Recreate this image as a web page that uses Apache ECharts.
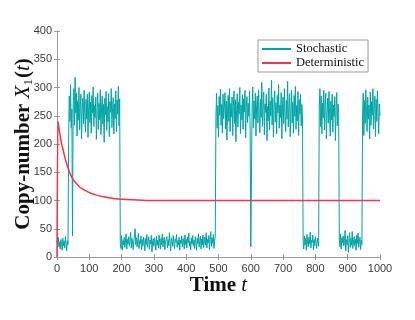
<!DOCTYPE html>
<html>
<head>
<meta charset="utf-8">
<script src="https://cdn.jsdelivr.net/npm/echarts@6/dist/echarts.min.js"></script>
<style>
  html, body { margin: 0; padding: 0; background: #fff; }
  #chart { width: 415px; height: 320px; }
</style>
</head>
<body>
<div id="chart"></div>
<script>
// stochastic copy-number, one sample every timeStep
var timeStep = 2;
var stochastic = [
  30, 22, 35, 18, 27, 14, 31, 25, 12, 33,
  20, 28, 16, 36, 24, 11, 29, 22, 210, 285,
  240, 305, 228, 262, 37, 270, 298, 233, 318, 255,
  290, 214, 276, 242, 300, 225, 268, 288, 209, 262,
  281, 236, 295, 250, 221, 279, 244, 288, 212, 266,
  292, 238, 274, 219, 286, 255, 301, 231, 268, 247,
  283, 208, 259, 290, 226, 272, 243, 296, 217, 264,
  285, 235, 270, 203, 281, 252, 293, 224, 267, 240,
  289, 213, 275, 256, 298, 229, 263, 282, 218, 271,
  245, 294, 222, 278, 253, 302, 232, 280, 24, 15,
  38, 12, 29, 21, 35, 17, 26, 41, 14, 31,
  23, 36, 19, 28, 44, 16, 33, 25, 13, 30,
  39, 50, 22, 34, 18, 27, 42, 15, 29, 24,
  37, 13, 31, 20, 35, 26, 11, 33, 22, 40,
  17, 28, 36, 14, 30, 23, 38, 9, 27, 32,
  19, 34, 25, 12, 37, 21, 30, 16, 39, 26,
  14, 33, 22, 41, 18, 29, 35, 13, 27, 24,
  36, 16, 31, 20, 43, 25, 11, 34, 28, 19,
  38, 23, 15, 32, 26, 40, 17, 29, 21, 35,
  12, 30, 24, 37, 18, 33, 27, 14, 39, 22,
  31, 16, 35, 25, 42, 19, 28, 13, 34, 23,
  38, 20, 30, 15, 36, 26, 12, 33, 24, 41,
  18, 29, 37, 14, 32, 22, 39, 17, 27, 35,
  21, 43, 16, 31, 25, 38, 13, 30, 45, 19,
  34, 24, 40, 15, 28, 36, 245, 290, 228, 268,
  212, 284, 251, 297, 233, 270, 219, 288, 245, 263,
  291, 227, 276, 207, 259, 286, 240, 298, 222, 272,
  248, 283, 215, 266, 294, 236, 278, 204, 261, 289,
  230, 274, 253, 300, 218, 269, 243, 287, 226, 280,
  257, 295, 211, 265, 284, 238, 272, 249, 293, 224,
  18, 16, 262, 301, 229, 276, 244, 290, 214, 268,
  285, 237, 296, 253, 220, 279, 247, 309, 231, 264,
  292, 216, 271, 256, 288, 206, 267, 241, 299, 225,
  276, 250, 313, 234, 282, 212, 261, 294, 239, 273,
  218, 286, 255, 305, 228, 269, 247, 291, 209, 264,
  283, 236, 298, 251, 222, 277, 244, 311, 230, 266,
  289, 213, 258, 295, 237, 274, 219, 286, 249, 302,
  226, 268, 241, 293, 215, 279, 253, 288, 232, 270,
  246, 28, 14, 37, 21, 33, 12, 40, 25, 18,
  35, 23, 44, 16, 30, 26, 39, 13, 31, 20,
  36, 24, 15, 33, 27, 19, 264, 298, 231, 285,
  218, 272, 246, 295, 225, 267, 290, 209, 258, 281,
  237, 293, 252, 214, 276, 243, 288, 221, 269, 249,
  284, 206, 263, 291, 232, 271, 255, 30, 18, 41,
  14, 34, 25, 37, 19, 29, 47, 11, 31, 22,
  38, 8, 26, 43, 17, 33, 21, 45, 15, 28,
  36, 20, 31, 12, 39, 24, 42, 17, 27, 35,
  13, 30, 22, 248, 290, 215, 277, 236, 296, 258,
  222, 283, 244, 269, 209, 292, 233, 275, 251, 298,
  227, 264, 285, 213, 279, 240, 294, 256, 218, 271,
  250
];

// deterministic solution
var detTimes = [0, 3, 5, 10, 15, 20, 25, 30, 35, 40, 50, 60, 70, 80, 90, 100,
  120, 140, 160, 180, 200, 250, 300, 400, 500, 600, 700, 800, 900, 1000];
var detValues = [0, 240, 232, 214, 199, 187, 175, 165, 156, 148, 137, 130, 124, 120, 117, 114,
  110, 107, 105, 103, 102, 101, 100, 100, 100, 100, 100, 100, 100, 100];

var xTicks = { min: 0, max: 1000, interval: 100 };
var yTicks = { min: 0, max: 400, interval: 50 };

var teal = '#00a5a5';
var red = '#f7334a';
var axisGrey = '#999';
var labelGrey = '#3a3a3a';

var chart = echarts.init(document.getElementById('chart'));

var stochData = stochastic.map(function (v, i) { return [i * timeStep, v]; });
var detData = detTimes.map(function (t, i) { return [t, detValues[i]]; });

function frameAxis(extra) {
  var base = {
    type: 'value',
    axisLine: { show: true, lineStyle: { color: axisGrey, width: 1 } },
    axisTick: { show: true, inside: true, length: 3, lineStyle: { color: axisGrey } },
    splitLine: { show: false },
    axisLabel: { show: false }
  };
  return Object.assign(base, extra);
}

var serif = '"Liberation Serif", "DejaVu Serif", serif';
var sans = '"Liberation Sans", Arial, sans-serif';

chart.setOption({
  animation: false,
  backgroundColor: '#fff',
  grid: { left: 57, right: 35, top: 31, bottom: 63, outerBoundsMode: 'none', containLabel: false },
  legend: {
    orient: 'vertical',
    left: 258,
    top: 40,
    padding: [2, 4, 2, 4],
    itemGap: 0,
    itemWidth: 29,
    itemHeight: 2,
    icon: 'rect',
    borderColor: '#999',
    borderWidth: 1,
    backgroundColor: '#fff',
    textStyle: { fontFamily: serif, fontSize: 12.5, color: '#111', lineHeight: 14 },
    data: ['Stochastic', 'Deterministic']
  },
  xAxis: [
    frameAxis({
      position: 'bottom',
      min: xTicks.min, max: xTicks.max, interval: xTicks.interval,
      axisLabel: { show: true, color: labelGrey, fontFamily: sans, fontSize: 11, margin: 6,
        formatter: function (v) { return String(v); } },
      name: '{b|Time }{i|t}',
      nameLocation: 'middle',
      nameMoveOverlap: false,
      nameGap: 18,
      nameTextStyle: {
        rich: {
          b: { fontFamily: serif, fontWeight: 'bold', fontSize: 21, color: '#111' },
          i: { fontFamily: serif, fontStyle: 'italic', fontSize: 21, color: '#111' }
        }
      }
    }),
    frameAxis({ position: 'top', min: xTicks.min, max: xTicks.max, interval: xTicks.interval })
  ],
  yAxis: [
    frameAxis({
      position: 'left',
      min: yTicks.min, max: yTicks.max, interval: yTicks.interval,
      axisLabel: { show: true, color: labelGrey, fontFamily: sans, fontSize: 11, margin: 5 },
      name: '{b|Copy-number }{i|X}{s|1}{b|(}{i|t}{b|)}',
      nameLocation: 'middle',
      nameRotate: 90,
      nameMoveOverlap: false,
      nameGap: 22,
      nameTextStyle: {
        rich: {
          b: { fontFamily: serif, fontWeight: 'bold', fontSize: 21, color: '#111' },
          i: { fontFamily: serif, fontStyle: 'italic', fontSize: 21, color: '#111' },
          s: { fontFamily: serif, fontSize: 13, color: '#111', padding: [10, 1, 0, 0] }
        }
      }
    }),
    frameAxis({ position: 'right', min: yTicks.min, max: yTicks.max, interval: yTicks.interval })
  ],
  series: [
    {
      name: 'Stochastic',
      type: 'line',
      data: stochData,
      showSymbol: false,
      symbol: 'none',
      lineStyle: { color: teal, width: 1 },
      itemStyle: { color: teal },
      z: 2
    },
    {
      name: 'Deterministic',
      type: 'line',
      data: detData,
      smooth: 0.3,
      showSymbol: false,
      symbol: 'none',
      lineStyle: { color: red, width: 1.5 },
      itemStyle: { color: red },
      z: 3
    }
  ]
});
</script>
</body>
</html>
